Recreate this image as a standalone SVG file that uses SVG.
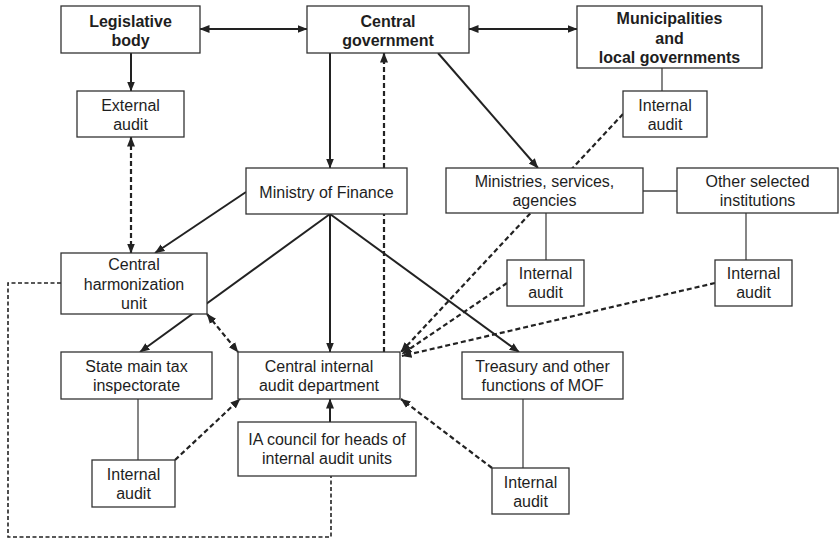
<svg xmlns="http://www.w3.org/2000/svg" width="839" height="540" viewBox="0 0 839 540">
<style>
.box{fill:#fff;stroke:#333;stroke-width:1.3}
.t{font-family:"Liberation Sans",Arial,Helvetica,sans-serif;font-size:16px;fill:#1e1e1e;text-anchor:middle}
.b{font-weight:bold}
.solid{stroke:#222;stroke-width:2;fill:none}
.dash{stroke:#222;stroke-width:2.2;stroke-dasharray:5 3;fill:none}
.loop{stroke:#222;stroke-width:1.6;stroke-dasharray:4 2.5;fill:none}
.thin{stroke:#444;stroke-width:1.3;fill:none}
</style>
<defs>
<marker id="ah" viewBox="0 0 10 10" refX="9.5" refY="5" markerWidth="10" markerHeight="10" markerUnits="userSpaceOnUse" orient="auto-start-reverse">
<path d="M0,1 L10,5 L0,9 z" fill="#222"/>
</marker>
</defs>
<rect width="839" height="540" fill="#fff"/>
<g id="connectors">
<line class="solid" x1="200" y1="29" x2="307" y2="29" marker-start="url(#ah)" marker-end="url(#ah)"/>
<line class="solid" x1="469" y1="29" x2="577" y2="29" marker-start="url(#ah)" marker-end="url(#ah)"/>
<line class="solid" x1="131" y1="53" x2="131" y2="91" marker-end="url(#ah)"/>
<line class="dash" x1="131" y1="137" x2="131" y2="253" marker-start="url(#ah)" marker-end="url(#ah)"/>
<line class="solid" x1="330" y1="53" x2="330" y2="168" marker-end="url(#ah)"/>
<line class="dash" x1="384" y1="352" x2="384" y2="53" marker-end="url(#ah)"/>
<line class="solid" x1="438" y1="53" x2="538" y2="168" marker-end="url(#ah)"/>
<line class="thin" x1="662" y1="68" x2="662" y2="91"/>
<line class="thin" x1="643" y1="191" x2="677" y2="191"/>
<line class="thin" x1="546" y1="213" x2="546" y2="260"/>
<line class="thin" x1="746" y1="213" x2="746" y2="260"/>
<line class="solid" x1="246" y1="192" x2="155" y2="253" marker-end="url(#ah)"/>
<line class="solid" x1="330" y1="214" x2="140" y2="352" marker-end="url(#ah)"/>
<line class="solid" x1="330" y1="214" x2="330" y2="352" marker-end="url(#ah)"/>
<line class="solid" x1="330" y1="214" x2="519" y2="352" marker-end="url(#ah)"/>
<line class="dash" x1="623" y1="114" x2="401" y2="352" marker-end="url(#ah)"/>
<line class="dash" x1="507" y1="283" x2="402" y2="354" marker-end="url(#ah)"/>
<line class="dash" x1="715" y1="283" x2="402" y2="356" marker-end="url(#ah)"/>
<line class="dash" x1="207" y1="314" x2="238" y2="352" marker-start="url(#ah)" marker-end="url(#ah)"/>
<line class="thin" x1="138" y1="399" x2="138" y2="460"/>
<line class="dash" x1="175" y1="460" x2="240" y2="399" marker-end="url(#ah)"/>
<line class="solid" x1="330" y1="422" x2="330" y2="399" marker-end="url(#ah)"/>
<line class="thin" x1="523" y1="399" x2="523" y2="468"/>
<line class="dash" x1="492" y1="468" x2="401" y2="399" marker-end="url(#ah)"/>
<path class="loop" d="M61,283 H8 V537 H331 V476"/>
</g>
<g id="legislative">
<rect class="box" x="61" y="6" width="139" height="47"/>
<text class="t b" x="130.5" y="27">Legislative</text>
<text class="t b" x="130.5" y="46">body</text>
</g>
<g id="central-government">
<rect class="box" x="307" y="6" width="162" height="47"/>
<text class="t b" x="388" y="27">Central</text>
<text class="t b" x="388" y="46">government</text>
</g>
<g id="municipalities">
<rect class="box" x="577" y="6" width="185" height="62"/>
<text class="t b" x="669.5" y="24">Municipalities</text>
<text class="t b" x="669.5" y="43.5">and</text>
<text class="t b" x="669.5" y="63">local governments</text>
</g>
<g id="external-audit">
<rect class="box" x="77" y="91" width="107" height="46"/>
<text class="t" x="130.5" y="111">External</text>
<text class="t" x="130.5" y="130">audit</text>
</g>
<g id="ia-municipalities">
<rect class="box" x="623" y="91" width="84" height="46"/>
<text class="t" x="665" y="111">Internal</text>
<text class="t" x="665" y="130">audit</text>
</g>
<g id="ministry-of-finance">
<rect class="box" x="246" y="168" width="161" height="46"/>
<text class="t" x="326.5" y="198">Ministry of Finance</text>
</g>
<g id="ministries">
<rect class="box" x="446" y="168" width="197" height="45"/>
<text class="t" x="544.5" y="187">Ministries, services,</text>
<text class="t" x="544.5" y="206">agencies</text>
</g>
<g id="other-institutions">
<rect class="box" x="677" y="168" width="161" height="45"/>
<text class="t" x="757.5" y="187">Other selected</text>
<text class="t" x="757.5" y="206">institutions</text>
</g>
<g id="ia-ministries">
<rect class="box" x="507" y="260" width="77" height="46"/>
<text class="t" x="545.5" y="279">Internal</text>
<text class="t" x="545.5" y="298">audit</text>
</g>
<g id="ia-other">
<rect class="box" x="715" y="260" width="77" height="46"/>
<text class="t" x="753.5" y="279">Internal</text>
<text class="t" x="753.5" y="298">audit</text>
</g>
<g id="harmonization-unit">
<rect class="box" x="61" y="253" width="146" height="61"/>
<text class="t" x="134" y="270">Central</text>
<text class="t" x="134" y="289.5">harmonization</text>
<text class="t" x="134" y="309">unit</text>
</g>
<g id="state-tax">
<rect class="box" x="61" y="352" width="151" height="47"/>
<text class="t" x="136.5" y="372">State main tax</text>
<text class="t" x="136.5" y="391">inspectorate</text>
</g>
<g id="ciad">
<rect class="box" x="238" y="352" width="162" height="47"/>
<text class="t" x="319" y="372">Central internal</text>
<text class="t" x="319" y="391">audit department</text>
</g>
<g id="treasury">
<rect class="box" x="462" y="352" width="161" height="47"/>
<text class="t" x="542.5" y="372">Treasury and other</text>
<text class="t" x="542.5" y="391">functions of MOF</text>
</g>
<g id="ia-council">
<rect class="box" x="238" y="422" width="178" height="54"/>
<text class="t" x="327" y="444.5">IA council for heads of</text>
<text class="t" x="327" y="464">internal audit units</text>
</g>
<g id="ia-state-tax">
<rect class="box" x="92" y="460" width="83" height="47"/>
<text class="t" x="133.5" y="480">Internal</text>
<text class="t" x="133.5" y="499">audit</text>
</g>
<g id="ia-treasury">
<rect class="box" x="492" y="468" width="77" height="46"/>
<text class="t" x="530.5" y="488">Internal</text>
<text class="t" x="530.5" y="507">audit</text>
</g>
</svg>
